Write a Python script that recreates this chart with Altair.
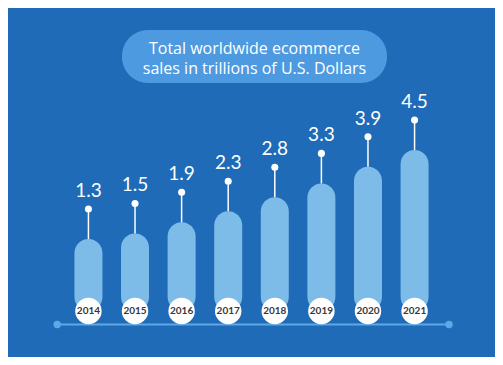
import altair as alt
import pandas as pd

# ---- data ----
years = [2014, 2015, 2016, 2017, 2018, 2019, 2020, 2021]
sales = [1.3, 1.5, 1.9, 2.3, 2.8, 3.3, 3.9, 4.5]
value_labels = ["1.3", "1.5", "1.9", "2.3", "2.8", "3.3", "3.9", "4.5"]
title_lines = ["Total worldwide ecommerce", "sales in trillions of U.S. Dollars"]

# ---- layout constants ----
BG = "#1f6bb7"
BAR = "#7dbbe9"
PILL = "#4e9ae0"
LINE = "#5ea8e8"
BASE = -1.29
X_DOMAIN = [2012.381, 2022.619]
Y_DOMAIN = [-2.945, 9.61]

bars = pd.DataFrame({"year": years, "sales": sales, "label": value_labels,
                     "base": [BASE] * len(years)})
ends = pd.DataFrame({"x": [min(years) - 0.67, max(years) + 0.74], "base": [BASE, BASE]})
line_df = pd.DataFrame({"x": [ends["x"][0]], "x2": [ends["x"][1]], "base": [BASE]})
title_df1 = pd.DataFrame({"title": [title_lines[0]]})
title_df2 = pd.DataFrame({"title": [title_lines[1]]})

xs = alt.Scale(domain=X_DOMAIN, nice=False, zero=False)
ys = alt.Scale(domain=Y_DOMAIN, nice=False, zero=False)

def X(f):
    return alt.X(f, type="quantitative", scale=xs, axis=None)

def Y(f):
    return alt.Y(f, type="quantitative", scale=ys, axis=None)

baseline = alt.Chart(line_df).mark_rule(color=LINE, strokeWidth=2, yOffset=13.5).encode(
    x=X("x"), x2="x2", y=Y("base"))
end_dots = alt.Chart(ends).mark_circle(color=LINE, opacity=1, size=55, yOffset=13.5).encode(
    x=X("x"), y=Y("base"))

base = alt.Chart(bars)
bar_layer = base.mark_bar(color=BAR, width=28, cornerRadius=14).encode(
    x=X("year"), y=Y("sales"), y2="base")
year_circles = base.mark_circle(color="white", opacity=1, size=700).encode(
    x=X("year"), y=Y("base"))
year_text = base.mark_text(color="#383838", font="Lato", fontSize=10, fontWeight="bold",
                           baseline="middle", align="center").encode(
    x=X("year"), y=Y("base"), text=alt.Text("year:N"))
stems = base.mark_rule(color="white", strokeWidth=1.5, y2Offset=-30).encode(
    x=X("year"), y=Y("sales"), y2="sales")
dots = base.mark_circle(color="white", opacity=1, size=50, yOffset=-30).encode(
    x=X("year"), y=Y("sales"))
labels = base.mark_text(color="white", font="Lato", fontSize=19, baseline="middle",
                        align="center", yOffset=-48).encode(
    x=X("year"), y=Y("sales"), text="label:N")

pill = alt.Chart(title_df1).mark_rect(color=PILL, cornerRadius=26).encode(
    x=alt.value(114), x2=alt.value(379), y=alt.value(22), y2=alt.value(75))
title1 = alt.Chart(title_df1).mark_text(color="white", font="Open Sans", fontSize=16,
                                        baseline="middle", align="center").encode(
    x=alt.value(246.5), y=alt.value(40.5), text="title:N")
title2 = alt.Chart(title_df2).mark_text(color="white", font="Open Sans", fontSize=16,
                                        baseline="middle", align="center").encode(
    x=alt.value(246.5), y=alt.value(60.5), text="title:N")

chart = alt.layer(baseline, end_dots, bar_layer, year_circles, year_text, stems, dots,
                  labels, pill, title1, title2).properties(
    width=487, height=349,
    autosize=alt.AutoSizeParams(type="fit", contains="padding"),
    padding=0, background=BG,
).configure_view(stroke=None)

chart.save("out.html", embed_options={"renderer": "svg", "actions": False})
